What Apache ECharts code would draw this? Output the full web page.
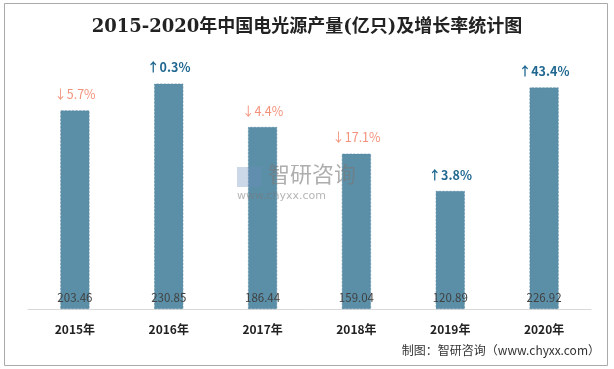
<!DOCTYPE html>
<html><head><meta charset="utf-8">
<script src="https://cdn.jsdelivr.net/npm/echarts@6/dist/echarts.min.js"></script>
<style>html,body{margin:0;padding:0;background:#fff}#c{width:614px;height:369px}</style>
</head><body><div id="c"></div>
<script>
const categories = ['2015年','2016年','2017年','2018年','2019年','2020年'];
const output = [203.46, 230.85, 186.44, 159.04, 120.89, 226.92];
const growth = [-5.7, 0.3, -4.4, -17.1, 3.8, 43.4];
const titleText = '2015-2020年中国电光源产量(亿只)及增长率统计图';
const sourceText = '制图：智研咨询（www.chyxx.com）';

const chart = echarts.init(document.getElementById('c'));
chart.setOption({
  animation: false,
  title: {
    text: titleText, left: 'center', top: 13,
    textStyle: { fontFamily: 'DejaVu Serif, Noto Sans CJK SC', fontSize: 18, fontWeight: 'bold', color: '#222' }
  },
  grid: { left: 28, right: 23, top: 65, bottom: 60 },
  xAxis: {
    type: 'category', data: categories,
    axisLine: { lineStyle: { color: '#d9d9d9' } },
    axisTick: { show: false },
    axisLabel: { color: '#222', fontWeight: 'bold', fontSize: 12, margin: 14, fontFamily: 'Noto Sans CJK SC' }
  },
  yAxis: { type: 'value', min: 0, max: 250, show: false, splitLine: { show: false } },
  series: [
    {
      type: 'bar', data: output, barWidth: 29,
      itemStyle: { color: '#5b8fa7', borderColor: '#5284a0', borderWidth: 0.6, borderType: 'dashed' },
      label: {
        show: true, position: 'insideBottom', distance: 6, color: '#404040', fontSize: 11.5,
        fontFamily: 'Noto Sans CJK SC'
      }
    },
    {
      type: 'bar', data: output, barWidth: 29, barGap: '-100%',
      itemStyle: { color: 'transparent' }, silent: true,
      label: {
        show: true, position: 'top', distance: 10,
        formatter: p => { const g = growth[p.dataIndex]; return g < 0 ? '{d|↓' + Math.abs(g) + '%}' : '{u|↑' + g + '%}'; },
        rich: {
          d: { color: '#f3927b', fontSize: 12.5, fontFamily: 'Noto Sans CJK SC' },
          u: { color: '#1f6790', fontSize: 12.5, fontWeight: 'bold', fontFamily: 'Noto Sans CJK SC' }
        }
      }
    }
  ],
  graphic: [
    { type: 'rect', shape: { x: 4.5, y: 3.5, width: 603, height: 362 }, style: { fill: 'none', stroke: '#aaa', lineWidth: 1 }, z: -1 },
    { type: 'text', left: 268, top: 163, style: { text: '智研咨询', fill: 'rgba(120,120,120,0.6)', fontSize: 22, fontFamily: 'Noto Sans CJK SC', letterSpacing: 5 }, z: 10 },
    { type: 'text', left: 237, top: 191, style: { text: 'www.chyxx.com', fill: 'rgba(120,120,120,0.55)', fontSize: 11, fontFamily: 'DejaVu Sans', letterSpacing: 3.6 }, z: 10 },
    { type: 'rect', shape: { x: 237, y: 167, width: 24, height: 20 }, style: { fill: 'rgba(110,140,190,0.35)' }, z: 10 },
    { type: 'text', right: 14, top: 344, style: { text: sourceText, fill: '#333', fontSize: 12, fontFamily: 'Noto Sans CJK SC' } }
  ]
});
</script></body></html>
